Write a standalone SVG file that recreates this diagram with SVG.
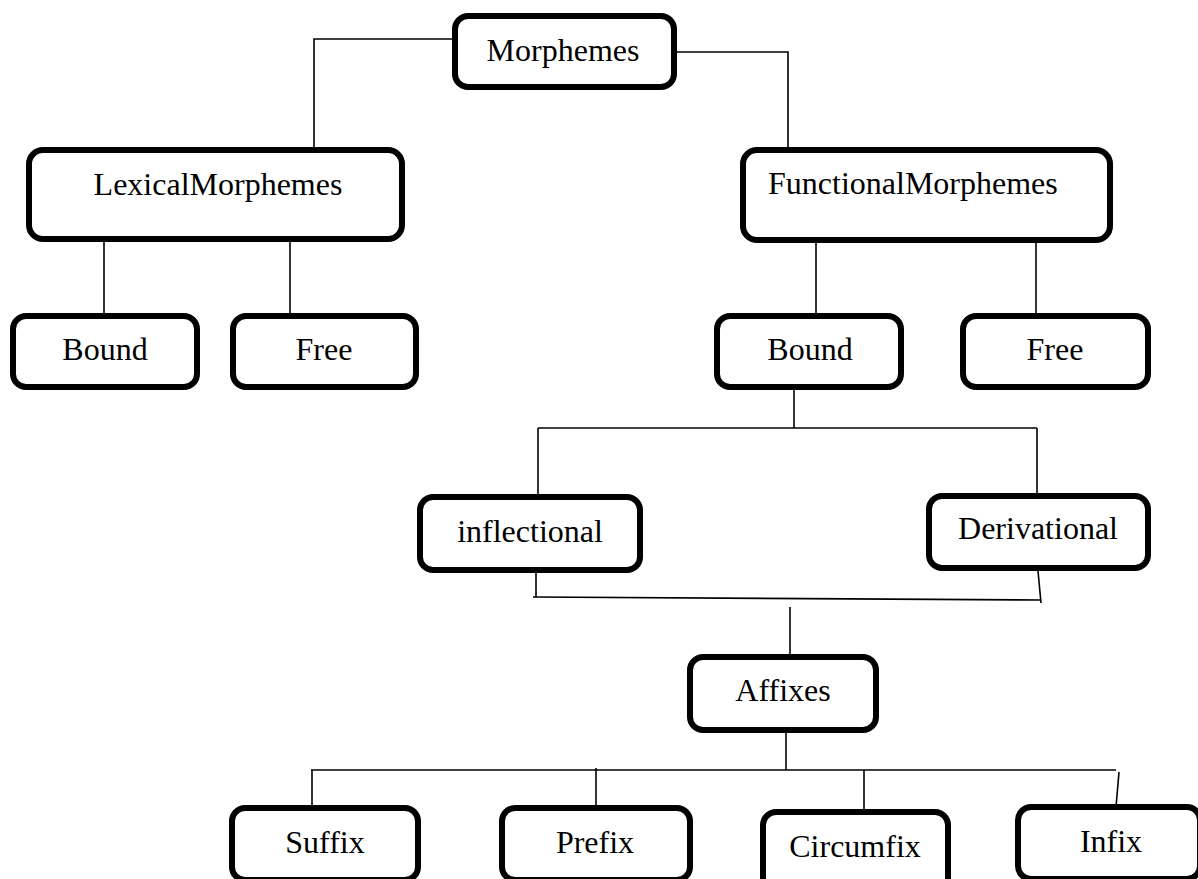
<svg xmlns="http://www.w3.org/2000/svg" width="1198" height="879" viewBox="0 0 1198 879">
<style>
.box{fill:#fff;stroke:#000;stroke-width:6;}
.lbl{font-family:"Liberation Serif","Times New Roman",serif;font-size:32px;fill:#000;text-anchor:middle;}
.conn{fill:none;stroke:#000;stroke-width:1.6;}
</style>
<rect width="1198" height="879" fill="#fff"/>
<g id="connectors" class="conn">
<path d="M455 39 H314 V150"/>
<path d="M674 52 H788 V150"/>
<path d="M104 239 V316"/>
<path d="M290 239 V316"/>
<path d="M816 240 V316"/>
<path d="M1036 240 V316"/>
<path d="M794 387 V428"/>
<path d="M538 428 H1037"/>
<path d="M538 428 V497"/>
<path d="M1037 428 V496"/>
<path d="M536 566 V597"/>
<path d="M533 597 L1041 600"/>
<path d="M1038 571 L1041 603"/>
<path d="M790 607 V657"/>
<path d="M786 730 V770"/>
<path d="M311 770 H1116"/>
<path d="M312 770 V808"/>
<path d="M596 768 V808"/>
<path d="M864 770 V812"/>
<path d="M1119 772 L1116 807"/>
</g>
<g id="morphemes"><rect class="box" x="455" y="16" width="219" height="71" rx="13"/><text class="lbl" x="563" y="61">Morphemes</text></g>
<g id="lexical"><rect class="box" x="29" y="150" width="373" height="89" rx="14"/><text class="lbl" x="218" y="195">LexicalMorphemes</text></g>
<g id="functional"><rect class="box" x="743" y="150" width="367" height="90" rx="14"/><text class="lbl" x="768" y="194" style="text-anchor:start">FunctionalMorphemes</text></g>
<g id="lex-bound"><rect class="box" x="13" y="316" width="184" height="71" rx="13"/><text class="lbl" x="105" y="360">Bound</text></g>
<g id="lex-free"><rect class="box" x="233" y="316" width="183" height="71" rx="13"/><text class="lbl" x="324" y="360">Free</text></g>
<g id="fun-bound"><rect class="box" x="717" y="316" width="184" height="71" rx="13"/><text class="lbl" x="810" y="360">Bound</text></g>
<g id="fun-free"><rect class="box" x="963" y="316" width="185" height="71" rx="13"/><text class="lbl" x="1055" y="360">Free</text></g>
<g id="inflectional"><rect class="box" x="420" y="497" width="220" height="73" rx="13"/><text class="lbl" x="530" y="542">inflectional</text></g>
<g id="derivational"><rect class="box" x="929" y="496" width="219" height="72" rx="13"/><text class="lbl" x="1038" y="539">Derivational</text></g>
<g id="affixes"><rect class="box" x="690" y="657" width="186" height="73" rx="13"/><text class="lbl" x="783" y="701">Affixes</text></g>
<g id="suffix"><rect class="box" x="232" y="808" width="186" height="72" rx="13"/><text class="lbl" x="325" y="853">Suffix</text></g>
<g id="prefix"><rect class="box" x="502" y="808" width="188" height="72" rx="13"/><text class="lbl" x="595" y="853">Prefix</text></g>
<g id="circumfix"><rect class="box" x="763" y="812" width="185" height="80" rx="13"/><text class="lbl" x="855" y="857">Circumfix</text></g>
<g id="infix"><rect class="box" x="1018" y="807" width="182" height="72" rx="13"/><text class="lbl" x="1111" y="852">Infix</text></g>
</svg>
